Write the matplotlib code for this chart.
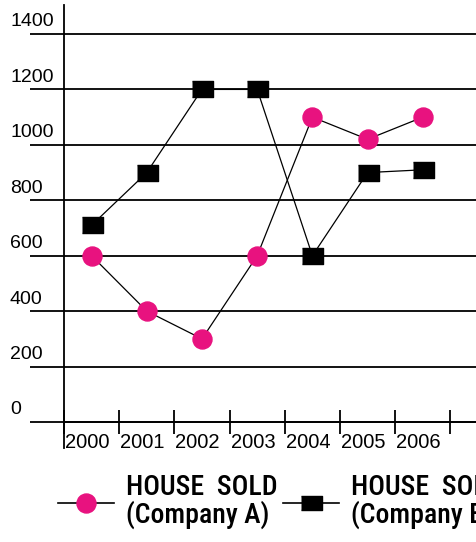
import matplotlib
matplotlib.use("Agg")
import matplotlib.pyplot as plt
import matplotlib.transforms as mtransforms

years = ['2000', '2001', '2002', '2003', '2004', '2005', '2006']
company_a = [600, 400, 300, 600, 1100, 1020, 1100]
company_b = [710, 900, 1200, 1200, 600, 900, 910]
y_ticks = [0, 200, 400, 600, 800, 1000, 1200, 1400]
y_labels = ['0', '200', '400', '600', '800', '1000', '1200', '1400']
legend_labels = ['HOUSE  SOLD\n(Company A)', 'HOUSE  SOLD\n(Company B)']

pink = '#e8127f'
W, H = 477, 542
DPI = 100
PT = 72 / DPI  # points per pixel

plt.rcParams['font.family'] = ['Liberation Sans', 'DejaVu Sans']

fig = plt.figure(figsize=(W / DPI, H / DPI), dpi=DPI)
ax = fig.add_axes([64 / W, (H - 448) / H, (W - 64) / W, (448 - 5) / H])

px_per_unit = (422 - 34) / 1400
ax.set_ylim(-(448 - 422) / px_per_unit, (422 - 5) / px_per_unit)
ax.set_xlim(0, (W - 64) / 55.2)

x = [i + 0.5 for i in range(len(years))]
ax.plot(x, company_b, color='black', lw=0.9, zorder=3,
        marker=[(-1, -0.8), (1, -0.8), (1, 0.8), (-1, 0.8)],
        markersize=21 * PT, markerfacecolor='black', markeredgecolor='black')
ax.plot(x, company_a, color='black', lw=0.9, zorder=4,
        marker='o', markersize=19 * PT, markerfacecolor=pink, markeredgecolor=pink)

for s in ['top', 'right']:
    ax.spines[s].set_visible(False)
ax.spines['bottom'].set_position(('data', 0))
ax.spines['left'].set_linewidth(1.3)
ax.spines['bottom'].set_linewidth(1.3)

ax.set_yticks(y_ticks)
ax.set_yticklabels(y_labels, ha='left')
ax.tick_params(axis='y', direction='out', length=34 * PT, width=1.3,
               pad=20 * PT, labelsize=14)
ax.grid(axis='y', color='black', lw=1.3)
up = mtransforms.ScaledTranslation(0, 14 / DPI, fig.dpi_scale_trans)
for lab in ax.get_yticklabels():
    lab.set_transform(lab.get_transform() + up)

ax.set_xticks(range(len(years) + 1))
ax.set_xticklabels(years + [''], ha='left')
ax.tick_params(axis='x', direction='inout', length=24 * PT, width=1.3,
               pad=-1, labelsize=14.5)
right = mtransforms.ScaledTranslation(1 / DPI, 0, fig.dpi_scale_trans)
for lab in ax.get_xticklabels():
    lab.set_transform(lab.get_transform() + right)

handles = [
    plt.Line2D([], [], color='black', lw=1.2, marker='o', markersize=19 * PT,
               markerfacecolor=pink, markeredgecolor=pink),
    plt.Line2D([], [], color='black', lw=1.2,
               marker=[(-1, -0.7), (1, -0.7), (1, 0.7), (-1, 0.7)], markersize=21 * PT,
               markerfacecolor='black', markeredgecolor='black'),
]
leg = fig.legend(handles, legend_labels, loc='upper left',
                 bbox_to_anchor=(58 / W, (H - 474) / H), ncol=2, frameon=False,
                 borderpad=0, borderaxespad=0,
                 handlelength=2.0, handletextpad=0.45, columnspacing=0.2,
                 prop={'family': ['Roboto Condensed', 'Archivo Narrow', 'DejaVu Sans'],
                       'size': 20, 'weight': 'medium'})
for t in leg.get_texts():
    t.set_linespacing(1.0)

fig.savefig('out.png', dpi=DPI)
